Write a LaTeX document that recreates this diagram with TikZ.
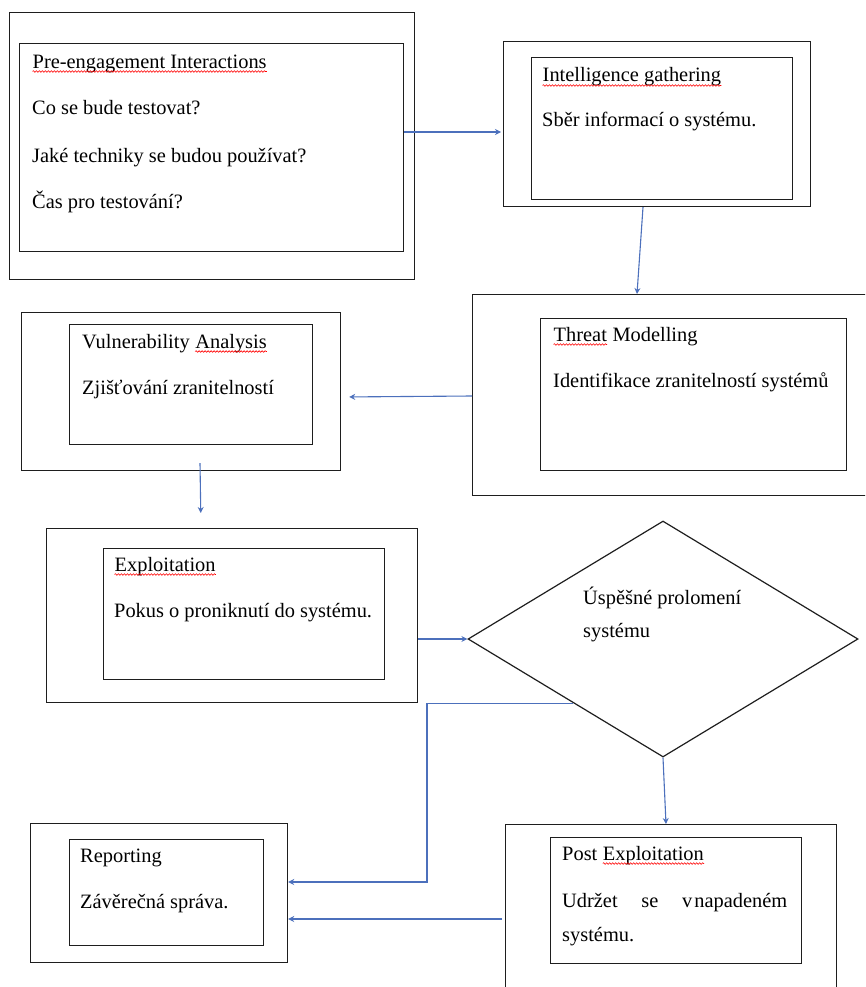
\documentclass[tikz,border=0pt]{standalone}
\usepackage{fontspec}
\setmainfont{Liberation Serif}
\usetikzlibrary{shapes.geometric, arrows.meta, positioning, calc, decorations.pathmorphing}

\definecolor{flowblue}{RGB}{76,112,188}
\definecolor{framegray}{RGB}{30,30,30}
% red spell-check wave under a word
\newcommand{\spell}[1]{\tikz[baseline=(sw.base)]{\node[inner sep=0pt] (sw) {#1};
  \draw[red, line width=0.6pt, decorate, decoration={snake, amplitude=0.8pt, segment length=3pt}]
    ([yshift=-3.5pt]sw.base west) -- ([yshift=-3.5pt]sw.base east);}}

\tikzset{
  frame/.style={draw=framegray, line width=1.2pt, inner sep=0pt, anchor=north west},
  txt/.style={anchor=base west, inner sep=0pt, align=left, font=\fontsize{20.4}{34}\selectfont},
  flow/.style={draw=flowblue, line width=1.1pt, -{Stealth[length=6pt,width=6pt]}},
}

\begin{document}
\begin{tikzpicture}[x=1pt,y=-1pt]
  \clip (0,0) rectangle (865,987);

  % boxes
  \node[frame, minimum width=405, minimum height=267] (preOut) at (9,12) {};
  \node[frame, minimum width=384, minimum height=208] (preIn) at (19,43) {};
  \node[frame, minimum width=307, minimum height=165] (igOut) at (503,41) {};
  \node[frame, minimum width=261, minimum height=142] (igIn) at (531,57) {};
  \node[frame, minimum width=420, minimum height=201] (tmOut) at (472,294) {};
  \node[frame, minimum width=306, minimum height=152] (tmIn) at (540,318) {};
  \node[frame, minimum width=319, minimum height=158] (vaOut) at (21,312) {};
  \node[frame, minimum width=243, minimum height=120] (vaIn) at (69,324) {};
  \node[frame, minimum width=371, minimum height=174] (exOut) at (46,528) {};
  \node[frame, minimum width=281, minimum height=131] (exIn) at (103,548) {};
  \node[frame, minimum width=331, minimum height=200] (peOut) at (505,824) {};
  \node[frame, minimum width=251, minimum height=126] (peIn) at (550,837) {};
  \node[frame, minimum width=257, minimum height=139] (rpOut) at (30,823) {};
  \node[frame, minimum width=194, minimum height=106] (rpIn) at (69,839) {};
  \node[draw=framegray, line width=1.2pt, diamond, inner sep=0pt,
        minimum width=390, minimum height=236] (dec) at (663,639) {};

  % texts (placed at the baseline of their last line)
  \node[txt] (preTxt) at ([shift={(13,165)}]preIn.north west)
    {\spell{Pre-engagement Interactions}\\[13pt] Co se bude testovat?\\[13pt]
     Jaké techniky se budou používat?\\[12pt] Čas pro testování?};
  \node[txt] (igTxt) at ([shift={(11,70)}]igIn.north west)
    {\spell{Intelligence gathering}\\[11pt] Sběr informací o systému.};
  \node[txt] (tmTxt) at ([shift={(13,69)}]tmIn.north west)
    {\spell{Threat} Modelling\\[12pt] Identifikace zranitelností systémů};
  \node[txt] (vaTxt) at ([shift={(13,70)}]vaIn.north west)
    {Vulnerability \spell{Analysis}\\[12pt] Zjišťování zranitelností};
  \node[txt] (exTxt) at ([shift={(11,69)}]exIn.north west)
    {\spell{Exploitation}\\[12pt] Pokus o proniknutí do systému.};
  \node[txt, font=\fontsize{20.4}{33}\selectfont] (decTxt) at ([shift={(-80,-2)}]dec.center)
    {Úspěšné prolomení\\ systému};
  \node[txt] (peTxt) at ([shift={(12,104)}]peIn.north west)
    {Post \spell{Exploitation}\\[13pt] \makebox[225pt][s]{Udržet se v\kern2pt napadeném}\\ systému.};
  \node[txt] (rpTxt) at ([shift={(11,69)}]rpIn.north west)
    {Reporting\\[12pt] Závěrečná správa.};

  % connectors
  \draw[flow, shorten >=2pt] (preIn.east |- 0,132) -- (igOut.west |- 0,132);
  \draw[flow] (igOut.south -| 643,0) -- (tmOut.north -| 637,0);
  \draw[flow, shorten >=8pt] (tmOut.west |- 0,396) -- (vaOut.east |- 0,397);
  \draw[flow, shorten >=15pt] ($(vaOut.south -| 200,0)+(0,-8)$) -- (exOut.north -| 201,0);
  \draw[flow] (exOut.east |- dec.west) -- (dec.west);
  \draw[flow] ($(dec.west)!0.54!(dec.south)$) -| (427,882) -- (rpOut.east |- 0,882);
  \draw[flow] (dec.south) -- (peOut.north -| 666,0);
  \draw[flow, shorten <=3pt] (peOut.west |- 0,919) -- (rpOut.east |- 0,919);
\end{tikzpicture}
\end{document}
